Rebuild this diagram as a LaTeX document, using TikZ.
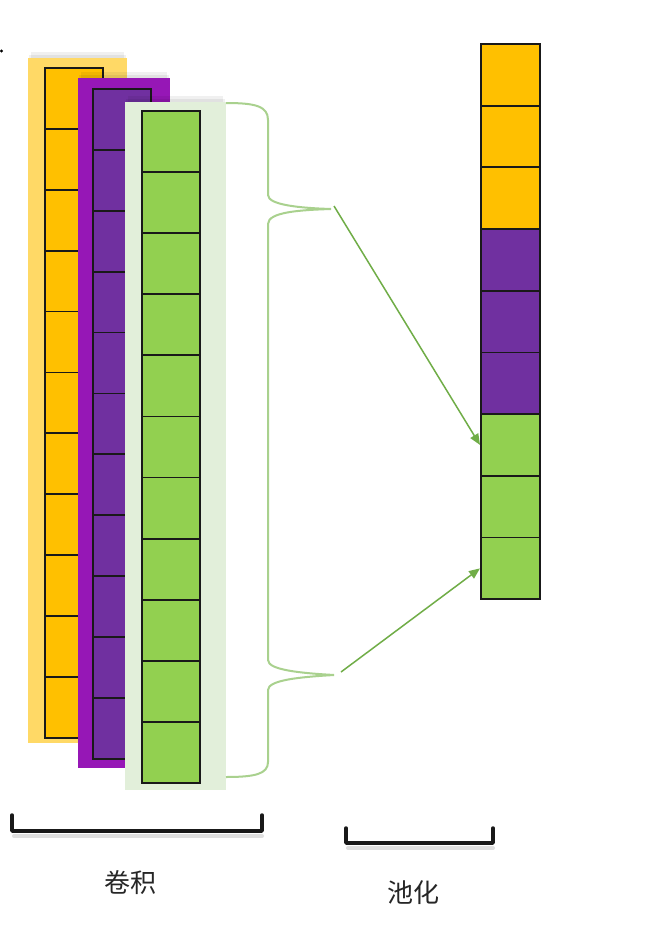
\documentclass[tikz,border=0pt]{standalone}
\usepackage{fontspec}
\newfontfamily\cjk{Noto Sans CJK SC}
\usetikzlibrary{arrows.meta}
\definecolor{ycell}{HTML}{FFC000}
\definecolor{ybg}{HTML}{FFD966}
\definecolor{pcell}{HTML}{7030A0}
\definecolor{pbg}{HTML}{9617B6}
\definecolor{gcell}{HTML}{92D050}
\definecolor{gbg}{HTML}{E2EFDA}
\definecolor{bracec}{HTML}{A9D18E}
\definecolor{arrowc}{HTML}{70AD47}
\begin{document}
\begin{tikzpicture}[x=1pt,y=-1pt,
  cell/.style={draw=black!90, line width=1.8pt, minimum width=58pt, inner sep=0pt, anchor=north west},
  panelshadow/.style={fill=black, opacity=0.06},
  bracket/.style={line width=3.5pt, line join=round, line cap=round, draw=black!90},
  bracketshadow/.style={line width=4pt, draw=gray!25, line cap=round},
  brace/.style={draw=bracec, line width=2pt},
  link/.style={draw=arrowc, line width=1.5pt, -{Triangle[length=11pt,width=9pt]}},
  label/.style={font=\cjk\fontsize{26}{30}\selectfont, text=black!85}]
\useasboundingbox (0,0) rectangle (670,930);
\fill[white] (0,0) rectangle (670,930);
\fill (1.5,51) circle (1.6);
% yellow panel
\fill[panelshadow] (31,52) rectangle (124,60);
\fill[panelshadow] (29,55) rectangle (126,60);
\node[fill=ybg, minimum width=99pt, minimum height=685pt, inner sep=0pt, anchor=north west] (ypanel) at (28,58) {};
\foreach \i in {0,...,10} {
  \node[cell, fill=ycell, minimum height=60.9pt] (y\i) at (44,67+60.9*\i) {};
}
% purple panel
\fill[panelshadow] (81,72) rectangle (167,80);
\fill[panelshadow] (79,75) rectangle (169,80);
\node[fill=pbg, minimum width=92pt, minimum height=690pt, inner sep=0pt, anchor=north west] (ppanel) at (78,78) {};
\foreach \i in {0,...,10} {
  \node[cell, fill=pcell, minimum height=60.9pt] (q\i) at (92,88+60.9*\i) {};
}
% green panel
\fill[panelshadow] (128,96) rectangle (223,104);
\fill[panelshadow] (126,99) rectangle (225,104);
\node[fill=gbg, minimum width=101pt, minimum height=688pt, inner sep=0pt, anchor=north west] (gpanel) at (125,102) {};
\foreach \i in {0,...,10} {
  \node[cell, fill=gcell, minimum height=61.1pt] (g\i) at (141,110+61.1*\i) {};
}
% brace
\coordinate (tipA) at (331,209);
\coordinate (tipB) at (334,675);
\draw[brace] (226,103) .. controls (255,103) and (268,106) .. (268,120) -- (268,195)
  .. controls (268,205) and (300,208) .. (tipA)
  .. controls (300,210) and (268,212) .. (268,224) -- (268,660)
  .. controls (268,670) and (300,673) .. (tipB)
  .. controls (300,677) and (268,680) .. (268,690) -- (268,762)
  .. controls (268,774) and (255,777) .. (226,777);
% pooled column
\foreach \i/\c in {0/ycell,1/ycell,2/ycell,3/pcell,4/pcell,5/pcell,6/gcell,7/gcell,8/gcell} {
  \node[cell, fill=\c, minimum width=59pt, minimum height=61.7pt] (r\i) at (480,43+61.7*\i) {};
}
% arrows
\coordinate (startA) at (334,206);
\coordinate (startB) at (341,672);
\draw[link] (startA) -- (r6.west);
\draw[link] (startB) -- (r8.west);
% brackets
\draw[bracketshadow] (14,836) -- (262,836);
\draw[bracket] (12,815) -- (12,831) -- (262,831) -- (262,815);
\draw[bracketshadow] (348,848) -- (493,848);
\draw[bracket] (346,828) -- (346,843) -- (493,843) -- (493,828);
% labels
\node[label] (conv) at (130,883) {卷积};
\node[label] (pool) at (413,893) {池化};
\end{tikzpicture}
\end{document}
